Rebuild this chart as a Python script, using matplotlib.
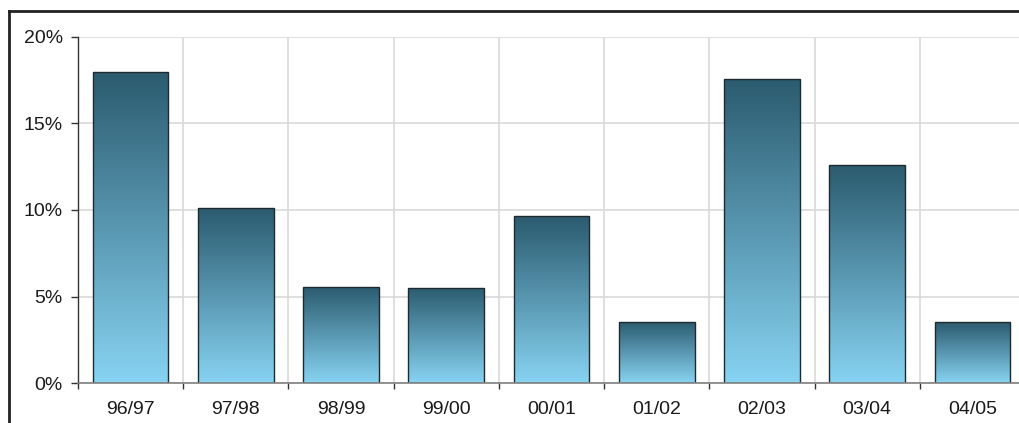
import matplotlib
matplotlib.use("Agg")
import matplotlib.pyplot as plt
import numpy as np
from matplotlib.colors import LinearSegmentedColormap
from matplotlib.lines import Line2D

categories = ["96/97", "97/98", "98/99", "99/00", "00/01", "01/02", "02/03", "03/04", "04/05"]
values = [18.0, 10.1, 5.55, 5.5, 9.65, 3.53, 17.6, 12.6, 3.5]
yticks = [0, 5, 10, 15, 20]
ytick_labels = ["0%", "5%", "10%", "15%", "20%"]

plt.rcParams['font.family'] = ['Liberation Sans', 'DejaVu Sans']

W, H = 1019, 423
fig = plt.figure(figsize=(W/100, H/100), dpi=100)
ax = fig.add_axes([78/W, 1-383/H, (1025-78)/W, (383-37)/H])

x = np.arange(len(categories))
bars = ax.bar(x, values, width=0.72, color='none', edgecolor='#1e2a30', linewidth=1.0, zorder=3)

cmap = LinearSegmentedColormap.from_list('g', ['#87D3F2', '#2B5B6F'])
grad = np.linspace(0, 1, 256).reshape(-1, 1)
for b in bars:
    bx, by, bw, bh = b.get_x(), b.get_y(), b.get_width(), b.get_height()
    im = ax.imshow(grad, cmap=cmap, origin='lower', aspect='auto',
                   extent=[bx, bx + bw, by, by + bh], zorder=2, interpolation='bilinear')
    im.set_clip_path(b)

ax.set_xlim(-0.5, len(categories) - 0.5)
ax.set_ylim(0, 20)
ax.set_yticks(yticks)
ax.set_yticklabels(ytick_labels, fontsize=14, color='#1a1a1a')
ax.set_xticks(x)
ax.set_xticklabels(categories, fontsize=14, color='#1a1a1a')
ax.tick_params(axis='x', length=0, pad=13)
ax.set_xticks(np.arange(len(categories) + 1) - 0.5, minor=True)
ax.tick_params(axis='x', which='minor', length=4, color='#333333', width=1)
ax.tick_params(axis='y', length=5, color='#333333', width=1, pad=6)

ax.grid(True, axis='y', color='#d9d9d9', linewidth=1.2, zorder=0)
ax.grid(True, axis='x', which='minor', color='#d9d9d9', linewidth=1.2, zorder=0)
ax.set_axisbelow(True)

for s in ['top', 'right']:
    ax.spines[s].set_visible(False)
ax.spines['left'].set_color('#333333')
ax.spines['left'].set_linewidth(1.0)
ax.spines['bottom'].set_color('#808080')
ax.spines['bottom'].set_linewidth(1.2)
ax.spines['bottom'].set_zorder(4)

# frame lines
fig.add_artist(Line2D([9/W, 1], [1-11/H, 1-11/H], color='#222222', linewidth=2.0, transform=fig.transFigure))
fig.add_artist(Line2D([9/W, 9/W], [0, 1-11/H], color='#222222', linewidth=2.0, transform=fig.transFigure))

fig.savefig("out.png", dpi=100)
